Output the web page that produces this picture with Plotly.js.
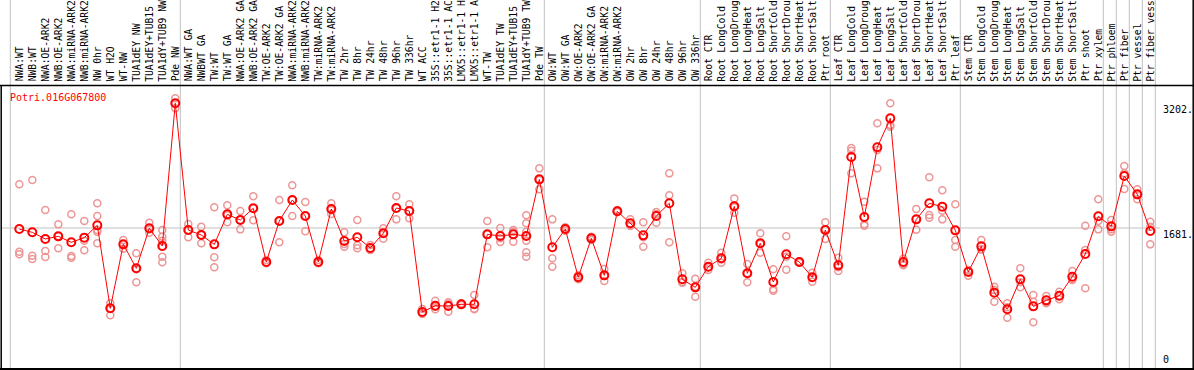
<!DOCTYPE html>
<html>
<head>
<meta charset="utf-8">
<script src="https://cdn.plot.ly/plotly-3.0.1.min.js"></script>
<style>html,body{margin:0;padding:0;background:#fff;}#chart{width:1194px;height:370px;}</style>
</head>
<body>
<div id="chart"></div>
<script>
const geneName = "Potri.016G067800";
const categories = [
"NWA:WT","NWB:WT","NWA:OE-ARK2","NWB:OE-ARK2","NWA:miRNA-ARK2","NWB:miRNA-ARK2","NW 0hr","WT H2O","WT-NW","TUA1dEY NW","TUA1dEY+TUB15","TUA1dY+TUB9 NW","Pde NW",
"NWA:WT GA","NWBWT GA","TW:WT","TW:WT GA","NWA:OE-ARK2 GA","NWB:OE-ARK2 GA","TW:OE-ARK2","TW:OE-ARK2 GA","NWA:miRNA-ARK2","NWB:miRNA-ARK2","TW:miRNA-ARK2","TW:miRNA-ARK2",
"TW 2hr","TW 8hr","TW 24hr","TW 48hr","TW 96hr","TW 336hr","WT ACC","35S::etr1-1 H2","35S::etr1-1 AC","LMX5::etr1-1 H","LMX5::etr1-1 A","WT-TW","TUA1dEY TW","TUA1dEY+TUB15","TUA1dY+TUB9 TW","Pde TW",
"OW:WT","OW:WT GA","OW:OE-ARK2","OW:OE-ARK2 GA","OW:miRNA-ARK2","OW:miRNA-ARK2","OW 2hr","OW 8hr","OW 24hr","OW 48hr","OW 96hr","OW 336hr",
"Root CTR","Root LongCold","Root LongDroug","Root LongHeat","Root LongSalt","Root ShortCold","Root ShortDrou","Root ShortHeat","Root ShortSalt","Ptr root",
"Leaf CTR","Leaf LongCold","Leaf LongDroug","Leaf LongHeat","Leaf LongSalt","Leaf ShortCold","Leaf ShortDrou","Leaf ShortHeat","Leaf ShortSalt","Ptr leaf",
"Stem CTR","Stem LongCold","Stem LongDroug","Stem LongHeat","Stem LongSalt","Stem ShortCold","Stem ShortDrou","Stem ShortHeat","Stem ShortSalt","Ptr shoot",
"Ptr xylem","Ptr phloem","Ptr fiber","Ptr vessel","Ptr fiber vess"
];
const meanValues = [
1668,1628,1547,1579,1506,1563,1713,701,1481,1189,1677,1461,3202,
1656,1595,1481,1847,1778,1921,1266,1766,2022,1827,1266,1912,
1522,1567,1437,1616,1925,1888,656,733,729,750,750,1603,1583,1603,1583,2274,
1445,1668,1079,1555,1103,1884,1738,1591,1827,1982,1055,957,
1209,1311,1945,1128,1494,1022,1360,1266,1079,1656,
1225,2547,1815,2665,3018,1266,1786,1982,1941,1652,
1144,1457,892,689,1055,725,798,855,1087,1364,
1823,1701,2315,2091,1644
];
const replicateValues = [
[2213,1392,1360],[2266,1343,1303],[1900,1400,1327],[1725,1579,1433],[1847,1339,1319],[1766,1526,1408],[1982,1827,1656,1494,1636],[762,701,616],[1534,1481,1429],[1372,1177,1018],[1746,1664,1624],[1656,1575,1526,1453,1331,1262],[3262,3201,3140],
[1729,1656,1567],[1697,1595,1494],[1933,1323,1201],[1957,1835,1750],[1888,1778,1664],[2067,1921,1774],[1290,1258,1250],[2022,1766,1506],[2201,2022,1827],[1998,1827,1640],[1290,1258,1250],[1982,1900,1851],
[1628,1486,1453],[1778,1469,1433],[1473,1420,1412],[1677,1616,1551],[2067,1921,1786],[1969,1892,1799],[693,648,632],[794,721,689],[774,754,660],[762,750,742],[864,697,689],[1766,1603,1445],[1681,1555,1510],[1656,1636,1514],[1835,1738,1636,1587,1526,1384,1331],[2408,2266,2152],
[1786,1311,1209],[1689,1664,1648],[1103,1079,1055],[1575,1555,1534],[1181,1095,1034],[1900,1884,1876],[1786,1721,1705],[1750,1567,1453],[1876,1851,1746],[2347,2079,1506],[1128,1022,1014],[1063,965,843],
[1258,1201,1168],[1380,1298,1258],[2042,1933,1868],[1242,1128,1018],[1616,1486,1380],[1177,933,916],[1579,1331,1173],[1274,1266,1258],[1136,1075,1026],[1750,1664,1547],
[1319,1201,1156],[2656,2624,2347],[2002,1725,1709],[2957,2632,2408],[3201,2937,2917],[1307,1242,1225],[1912,1786,1660],[2299,1839,1807],[2140,1892,1786],[1969,1534,1453],
[1168,1156,1099],[1534,1420,1420],[965,925,782],[762,713,587],[1189,1018,957],[864,782,530],[851,782,762],[904,851,811],[1156,1055,1046],[1709,1412,945],
[2030,1766,1664],[1778,1664,1636],[2437,2347,2156],[2152,2083,2030],[1758,1697,1481]
];
const axisTickLabels = ["3202.","1681.","0"];
const axisTickValues = [3202,1681,0];
const groupEnds = [12,40,52,62,72,83,84,85,86,87];

const W = 1194, H = 370;
const px2x = p => (p - 19.3) / 13;
const vAt = p => (365.8 - p) / 0.08199;
const xs = categories.map((c,i)=>i);

const repX = [], repY = [];
replicateValues.forEach((arr,i)=>arr.forEach(v=>{repX.push(i);repY.push(v);}));

const traces = [
  {x: repX, y: repY, type:'scatter', mode:'markers', hoverinfo:'skip',
   marker:{symbol:'circle-open', size:7, color:'rgb(236,150,150)', line:{width:1.5, color:'rgb(236,150,150)'}}},
  {x: xs, y: meanValues, type:'scatter', mode:'lines+markers',
   line:{color:'rgb(255,0,0)', width:1},
   marker:{symbol:'circle-open', size:8, color:'rgb(255,0,0)', line:{width:2, color:'rgb(255,0,0)'}}}
];

const shapes = [];
const gray = 'rgb(192,192,192)';
shapes.push({type:'line', xref:'x', yref:'paper', x0:px2x(10.3), x1:px2x(10.3), y0:0, y1:1, line:{color:gray,width:1}, layer:'below'});
groupEnds.forEach(g=>{
  shapes.push({type:'line', xref:'x', yref:'paper', x0:g+0.385, x1:g+0.385, y0:1-369/H, y1:1, line:{color:gray,width:1}, layer:'below'});
});
shapes.push({type:'line', xref:'paper', yref:'y', x0:1/W, x1:1160/W, y0:axisTickValues[1], y1:axisTickValues[1], line:{color:gray,width:1}, layer:'below'});
// frame
shapes.push({type:'line', xref:'paper', yref:'paper', x0:0, x1:1, y0:1-85.5/H, y1:1-85.5/H, line:{color:'#000',width:1.5}});
shapes.push({type:'line', xref:'paper', yref:'paper', x0:0, x1:1, y0:1-369/H, y1:1-369/H, line:{color:'#000',width:2}});
shapes.push({type:'line', xref:'paper', yref:'paper', x0:1.2/W, x1:1.2/W, y0:1-369/H, y1:1-85.5/H, line:{color:'#000',width:1.5}});
shapes.push({type:'line', xref:'paper', yref:'paper', x0:1193.2/W, x1:1193.2/W, y0:1-369/H, y1:1, line:{color:'#000',width:1.5}});

const font = {family:'DejaVu Sans Mono, monospace', size:10, color:'#000'};
const labelFont = {family:'DejaVu Sans Mono, monospace', size:9.7, color:'#000'};
const annotations = categories.map((c,i)=>({
  text:c, x:i, xref:'x', y:1-82.5/H, yref:'paper', textangle:-90,
  xanchor:'center', yanchor:'bottom', showarrow:false, font:labelFont, borderpad:0
}));
annotations.push({text:geneName, x:9/W, xref:'paper', y:1-97/H, yref:'paper', xanchor:'left', yanchor:'middle', showarrow:false, font:{family:font.family,size:10,color:'rgb(255,0,0)'}, borderpad:0});
axisTickLabels.forEach((t,k)=>{
  annotations.push({text:t, x:1162/W, xref:'paper', y:axisTickValues[k], yref:'y',
    xanchor:'left', yanchor: k===2 ? 'bottom' : 'top', showarrow:false, font:font, borderpad:0});
});

const layout = {
  width:W, height:H, margin:{l:0,r:0,t:0,b:0},
  paper_bgcolor:'#fff', plot_bgcolor:'#fff', showlegend:false,
  xaxis:{range:[px2x(0), px2x(W)], visible:false, fixedrange:true},
  yaxis:{range:[vAt(H), vAt(0)], visible:false, fixedrange:true},
  shapes:shapes, annotations:annotations
};
Plotly.newPlot('chart', traces, layout, {staticPlot:true, displayModeBar:false});
</script>
</body>
</html>
